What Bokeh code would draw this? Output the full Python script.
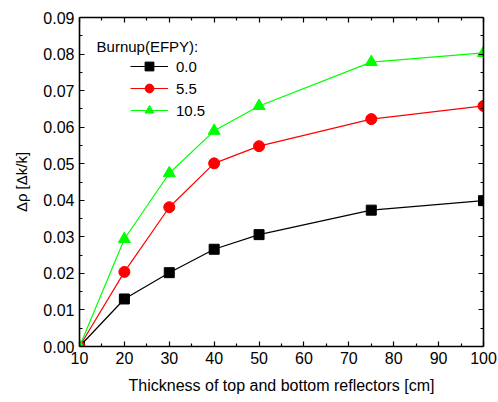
from bokeh.plotting import figure
from bokeh.models import (LinearAxis, FixedTicker, NumeralTickFormatter, Range1d,
                          Legend, LegendItem, Label)
from bokeh.embed import file_html
from bokeh.resources import INLINE

thickness = [10, 20, 30, 40, 50, 75, 100]
burnup_0 = [0.0, 0.0130, 0.0202, 0.0266, 0.0306, 0.0373, 0.0399]
burnup_5 = [0.0, 0.0204, 0.0381, 0.0501, 0.0548, 0.0622, 0.0658]
burnup_10 = [0.0, 0.0294, 0.0474, 0.0590, 0.0658, 0.0778, 0.0803]
x_ticks = [10, 20, 30, 40, 50, 60, 70, 80, 90, 100]
y_ticks = [0.0, 0.01, 0.02, 0.03, 0.04, 0.05, 0.06, 0.07, 0.08, 0.09]
x_minor = [15, 25, 35, 45, 55, 65, 75, 85, 95]
y_minor = [0.005, 0.015, 0.025, 0.035, 0.045, 0.055, 0.065, 0.075, 0.085]
labels = ["0.0", "5.5", "10.5"]
legend_title = "Burnup(EFPY):"

FONT = "Liberation Sans"
GREEN = "#00ff00"

p = figure(width=498, height=402, output_backend="svg", toolbar_location=None,
           x_range=Range1d(10, 100), y_range=Range1d(0, 0.09),
           min_border_left=79, min_border_right=15, min_border_top=17, min_border_bottom=56)
p.background_fill_color = "white"
p.border_fill_color = "white"
p.outline_line_color = None
p.xgrid.visible = False
p.ygrid.visible = False

xt = FixedTicker(ticks=x_ticks, minor_ticks=x_minor)
yt = FixedTicker(ticks=y_ticks, minor_ticks=y_minor)

def style(ax, show_labels):
    ax.axis_line_color = "black"
    ax.axis_line_width = 1.6
    ax.major_tick_in = 5
    ax.major_tick_out = 0
    ax.minor_tick_in = 3
    ax.minor_tick_out = 0
    ax.major_tick_line_width = 1.2
    ax.minor_tick_line_width = 1.2
    ax.major_label_text_font = FONT
    ax.major_label_text_font_size = "16px"
    ax.major_label_text_color = "black" if show_labels else None
    ax.axis_label_text_font = FONT
    ax.axis_label_text_font_size = "16px"
    ax.axis_label_text_font_style = "normal"
    ax.axis_label_text_color = "black"

p.xaxis.ticker = xt
p.yaxis.ticker = yt
p.yaxis.formatter = NumeralTickFormatter(format="0.00")
p.xaxis.axis_label = "Thickness of top and bottom reflectors [cm]"
p.yaxis.axis_label = "Δρ [Δk/k]"
p.xaxis.axis_label_standoff = 10
p.yaxis.axis_label_standoff = 10
for ax in p.xaxis + p.yaxis:
    style(ax, True)
p.yaxis.axis_label_text_font_size = "15px"

top = LinearAxis(ticker=xt)
right = LinearAxis(ticker=yt)
style(top, False)
style(right, False)
top.major_label_text_font_size = "0px"
right.major_label_text_font_size = "0px"
top.major_label_standoff = 0
right.major_label_standoff = 0
p.add_layout(top, "above")
p.add_layout(right, "right")

l0 = p.line(thickness, burnup_0, line_color="black", line_width=1.2)
m0 = p.scatter(thickness, burnup_0, marker="square", size=10, fill_color="black", line_color="black")
l1 = p.line(thickness, burnup_5, line_color="red", line_width=1.2)
m1 = p.scatter(thickness, burnup_5, marker="circle", size=11, fill_color="red", line_color="red")
l2 = p.line(thickness, burnup_10, line_color=GREEN, line_width=1.2)
m2 = p.scatter(thickness, burnup_10, marker="triangle", size=12, fill_color=GREEN, line_color=GREEN)

title_label = Label(x=13.8, y=0.0820, text=legend_title, text_font=FONT,
                    text_font_size="15px", text_color="black", text_baseline="alphabetic")
p.add_layout(title_label)

legend = Legend(items=[LegendItem(label=labels[0], renderers=[l0, m0]),
                       LegendItem(label=labels[1], renderers=[l1, m1]),
                       LegendItem(label=labels[2], renderers=[l2, m2])],
                location=(51, 225))
legend.label_text_font = FONT
legend.label_text_font_size = "15px"
legend.label_text_color = "black"
legend.border_line_color = None
legend.background_fill_alpha = 0
legend.glyph_width = 38
legend.glyph_height = 22
legend.label_height = 22
legend.label_standoff = 8
legend.spacing = 0
legend.padding = 4
legend.margin = 0
p.add_layout(legend, "center")

open("out.html", "w").write(file_html(p, INLINE))
